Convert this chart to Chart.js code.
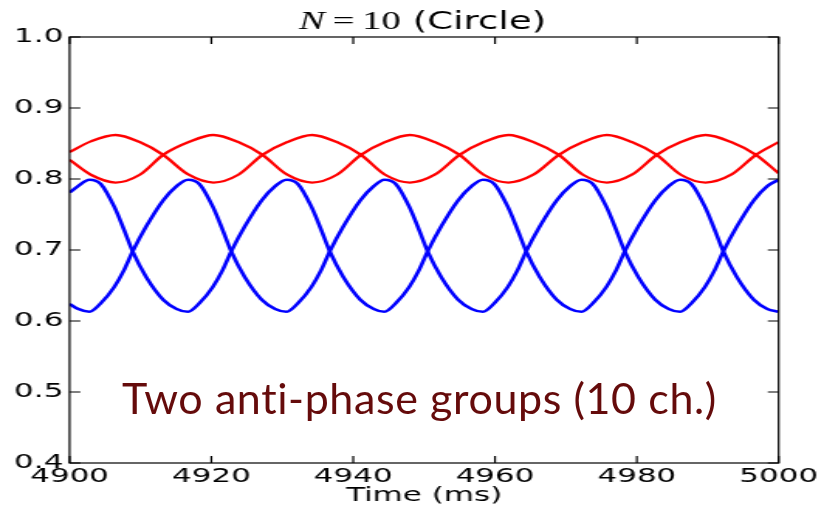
<!DOCTYPE html>
<html>
<head>
<meta charset="utf-8">
<script src="https://cdn.jsdelivr.net/npm/chart.js@4.4.0/dist/chart.umd.min.js"></script>
<style>
    html, body { margin: 0; padding: 0; background: #fff; }
    #wrap { position: relative; width: 824px; height: 508px; overflow: hidden; }
    /* the plot is laid out narrow and stretched sideways */
    #plot { position: absolute; left: 0; top: 0; width: 532px; height: 508px;
            transform: scaleX(1.5489); transform-origin: 0 0; }
    #note { position: absolute; left: 122px; top: 376px; font-family: Lato, sans-serif;
            font-size: 43px; letter-spacing: 0.6px; line-height: 1; color: #650b0b;
            white-space: nowrap; }
</style>
</head>
<body>
<div id="wrap">
    <div id="plot"><canvas id="phase-chart" width="532" height="508"></canvas></div>
    <div id="note">Two anti-phase groups (10 ch.)</div>
</div>
<script>

    // Data

    var xTicks = [4900, 4920, 4940, 4960, 4980, 5000];
    var yTicks = [0.4, 0.5, 0.6, 0.7, 0.8, 0.9, 1.0];

    var redTimes = [
        4900.0, 4903.0, 4906.5, 4909.9, 4913.2, 4916.8, 4920.3, 4923.8, 4927.2, 4930.7,
        4934.2, 4937.7, 4941.1, 4944.5, 4948.0, 4951.5, 4955.0, 4958.4, 4961.9, 4965.4,
        4969.0, 4972.4, 4975.8, 4979.3, 4982.8, 4986.2, 4989.7, 4993.3, 4996.8, 5000.0
    ];
    var redUpper = [
        0.838, 0.853, 0.862, 0.852, 0.834, 0.806, 0.795, 0.806, 0.834, 0.852,
        0.862, 0.852, 0.834, 0.806, 0.795, 0.806, 0.834, 0.852, 0.862, 0.852,
        0.834, 0.806, 0.795, 0.806, 0.834, 0.852, 0.862, 0.852, 0.834, 0.808
    ];
    var redLower = [
        0.827, 0.806, 0.795, 0.806, 0.834, 0.852, 0.862, 0.852, 0.834, 0.806,
        0.795, 0.806, 0.834, 0.852, 0.862, 0.852, 0.834, 0.806, 0.795, 0.806,
        0.834, 0.852, 0.862, 0.852, 0.834, 0.806, 0.795, 0.806, 0.834, 0.852
    ];

    var blueTimes = [
        4900.0, 4901.2,
        4902.8, 4904.4, 4906.3, 4907.7, 4908.9, 4910.8, 4913.2, 4915.1,
        4916.7, 4918.3, 4920.2, 4921.6, 4922.8, 4924.7, 4927.1, 4929.0,
        4930.6, 4932.2, 4934.1, 4935.5, 4936.7, 4938.6, 4941.0, 4942.9,
        4944.4, 4946.0, 4947.9, 4949.3, 4950.5, 4952.4, 4954.8, 4956.7,
        4958.3, 4959.9, 4961.8, 4963.2, 4964.4, 4966.3, 4968.7, 4970.6,
        4972.2, 4973.8, 4975.7, 4977.1, 4978.3, 4980.2, 4982.6, 4984.5,
        4986.1, 4987.7, 4989.6, 4991.0, 4992.2, 4994.1, 4996.5, 4998.4,
        5000.0
    ];
    var blueUpper = [
        0.781, 0.790,
        0.799, 0.793, 0.761, 0.728, 0.698, 0.662, 0.630, 0.617,
        0.613, 0.625, 0.648, 0.672, 0.698, 0.733, 0.770, 0.790,
        0.799, 0.793, 0.761, 0.728, 0.698, 0.662, 0.630, 0.617,
        0.613, 0.625, 0.648, 0.672, 0.698, 0.733, 0.770, 0.790,
        0.799, 0.793, 0.761, 0.728, 0.698, 0.662, 0.630, 0.617,
        0.613, 0.625, 0.648, 0.672, 0.698, 0.733, 0.770, 0.790,
        0.799, 0.793, 0.761, 0.728, 0.698, 0.662, 0.630, 0.617,
        0.613
    ];
    var blueLower = [
        0.624, 0.617,
        0.613, 0.625, 0.648, 0.672, 0.698, 0.733, 0.770, 0.790,
        0.799, 0.793, 0.761, 0.728, 0.698, 0.662, 0.630, 0.617,
        0.613, 0.625, 0.648, 0.672, 0.698, 0.733, 0.770, 0.790,
        0.799, 0.793, 0.761, 0.728, 0.698, 0.662, 0.630, 0.617,
        0.613, 0.625, 0.648, 0.672, 0.698, 0.733, 0.770, 0.790,
        0.799, 0.793, 0.761, 0.728, 0.698, 0.662, 0.630, 0.617,
        0.613, 0.625, 0.648, 0.672, 0.698, 0.733, 0.770, 0.790,
        0.799
    ];


    // Methods

    function points(times, values) {
        return times.map(function (t, i) { return { x: t, y: values[i] }; });
    }

    function trace(times, values, color, width) {
        return {
            data: points(times, values),
            borderColor: color,
            borderWidth: width,
            pointRadius: 0,
            fill: false,
            cubicInterpolationMode: 'monotone'
        };
    }

    // frame on all four sides with inward ticks
    var frameTicks = {
        id: 'frameTicks',
        afterDatasetsDraw: function (chart) {
            var ctx = chart.ctx, a = chart.chartArea;
            var sx = chart.scales.x, sy = chart.scales.y;
            var len = 7;
            ctx.save();
            ctx.strokeStyle = '#000';
            ctx.lineWidth = 1.2;
            ctx.strokeRect(a.left, a.top, a.right - a.left, a.bottom - a.top);
            ctx.beginPath();
            xTicks.forEach(function (v) {
                var px = sx.getPixelForValue(v);
                ctx.moveTo(px, a.bottom); ctx.lineTo(px, a.bottom - len);
                ctx.moveTo(px, a.top); ctx.lineTo(px, a.top + len);
            });
            yTicks.forEach(function (v) {
                var py = sy.getPixelForValue(v);
                ctx.moveTo(a.left, py); ctx.lineTo(a.left + len, py);
                ctx.moveTo(a.right, py); ctx.lineTo(a.right - len, py);
            });
            ctx.stroke();
            ctx.restore();
        }
    };

    // "N = 10 (Circle)" with a math-style N
    var titleText = {
        id: 'titleText',
        afterDraw: function (chart) {
            var ctx = chart.ctx, a = chart.chartArea;
            var parts = [
                { text: 'N', font: 'italic 25px "Liberation Serif"' },
                { text: '\u2009=\u200910', font: '25px "Liberation Serif"' },
                { text: ' (Circle)', font: '24px "DejaVu Sans"' }
            ];
            ctx.save();
            var total = 0;
            parts.forEach(function (p) {
                ctx.font = p.font;
                p.w = ctx.measureText(p.text).width;
                total += p.w;
            });
            var x = (a.left + a.right) / 2 - total / 2 - 1;
            ctx.fillStyle = '#000';
            ctx.textBaseline = 'alphabetic';
            parts.forEach(function (p) {
                ctx.font = p.font;
                ctx.fillText(p.text, x, 28.5);
                x += p.w;
            });
            ctx.restore();
        }
    };

    var $canvas = document.getElementById('phase-chart');

    var PhaseChart = new Chart($canvas, {
        type: 'line',
        data: {
            datasets: [
                trace(redTimes, redUpper, '#ff0000', 2.3),
                trace(redTimes, redLower, '#ff0000', 2.3),
                trace(blueTimes, blueUpper, '#0000ff', 2.6),
                trace(blueTimes, blueLower, '#0000ff', 2.6)
            ]
        },
        options: {
            responsive: false,
            animation: false,
            layout: {
                padding: { left: 0, top: 37, right: 29.3, bottom: 0 }
            },
            plugins: {
                legend: { display: false },
                tooltip: { enabled: false }
            },
            scales: {
                x: {
                    type: 'linear',
                    min: 4900,
                    max: 5000,
                    afterFit: function (scale) { scale.height = 45; },
                    afterBuildTicks: function (scale) {
                        scale.ticks = xTicks.map(function (v) { return { value: v }; });
                    },
                    grid: { display: false, drawTicks: false },
                    border: { display: false },
                    ticks: {
                        padding: 2,
                        maxRotation: 0,
                        autoSkip: false,
                        color: '#000',
                        font: { family: 'DejaVu Sans', size: 20 },
                        callback: function (v) { return String(v); }
                    },
                    title: {
                        display: true,
                        text: 'Time (ms)',
                        color: '#000',
                        font: { family: 'DejaVu Sans', size: 20 },
                        padding: { top: 0, bottom: 0 }
                    }
                },
                y: {
                    min: 0.4,
                    max: 1.0,
                    afterFit: function (scale) { scale.width = 44.9; },
                    afterBuildTicks: function (scale) {
                        scale.ticks = yTicks.map(function (v) { return { value: v }; });
                    },
                    grid: { display: false, drawTicks: false },
                    border: { display: false },
                    ticks: {
                        padding: 4,
                        autoSkip: false,
                        color: '#000',
                        font: { family: 'DejaVu Sans', size: 20 },
                        callback: function (v) { return v.toFixed(1); }
                    }
                }
            }
        },
        plugins: [frameTicks, titleText]
    });

</script>
</body>
</html>
